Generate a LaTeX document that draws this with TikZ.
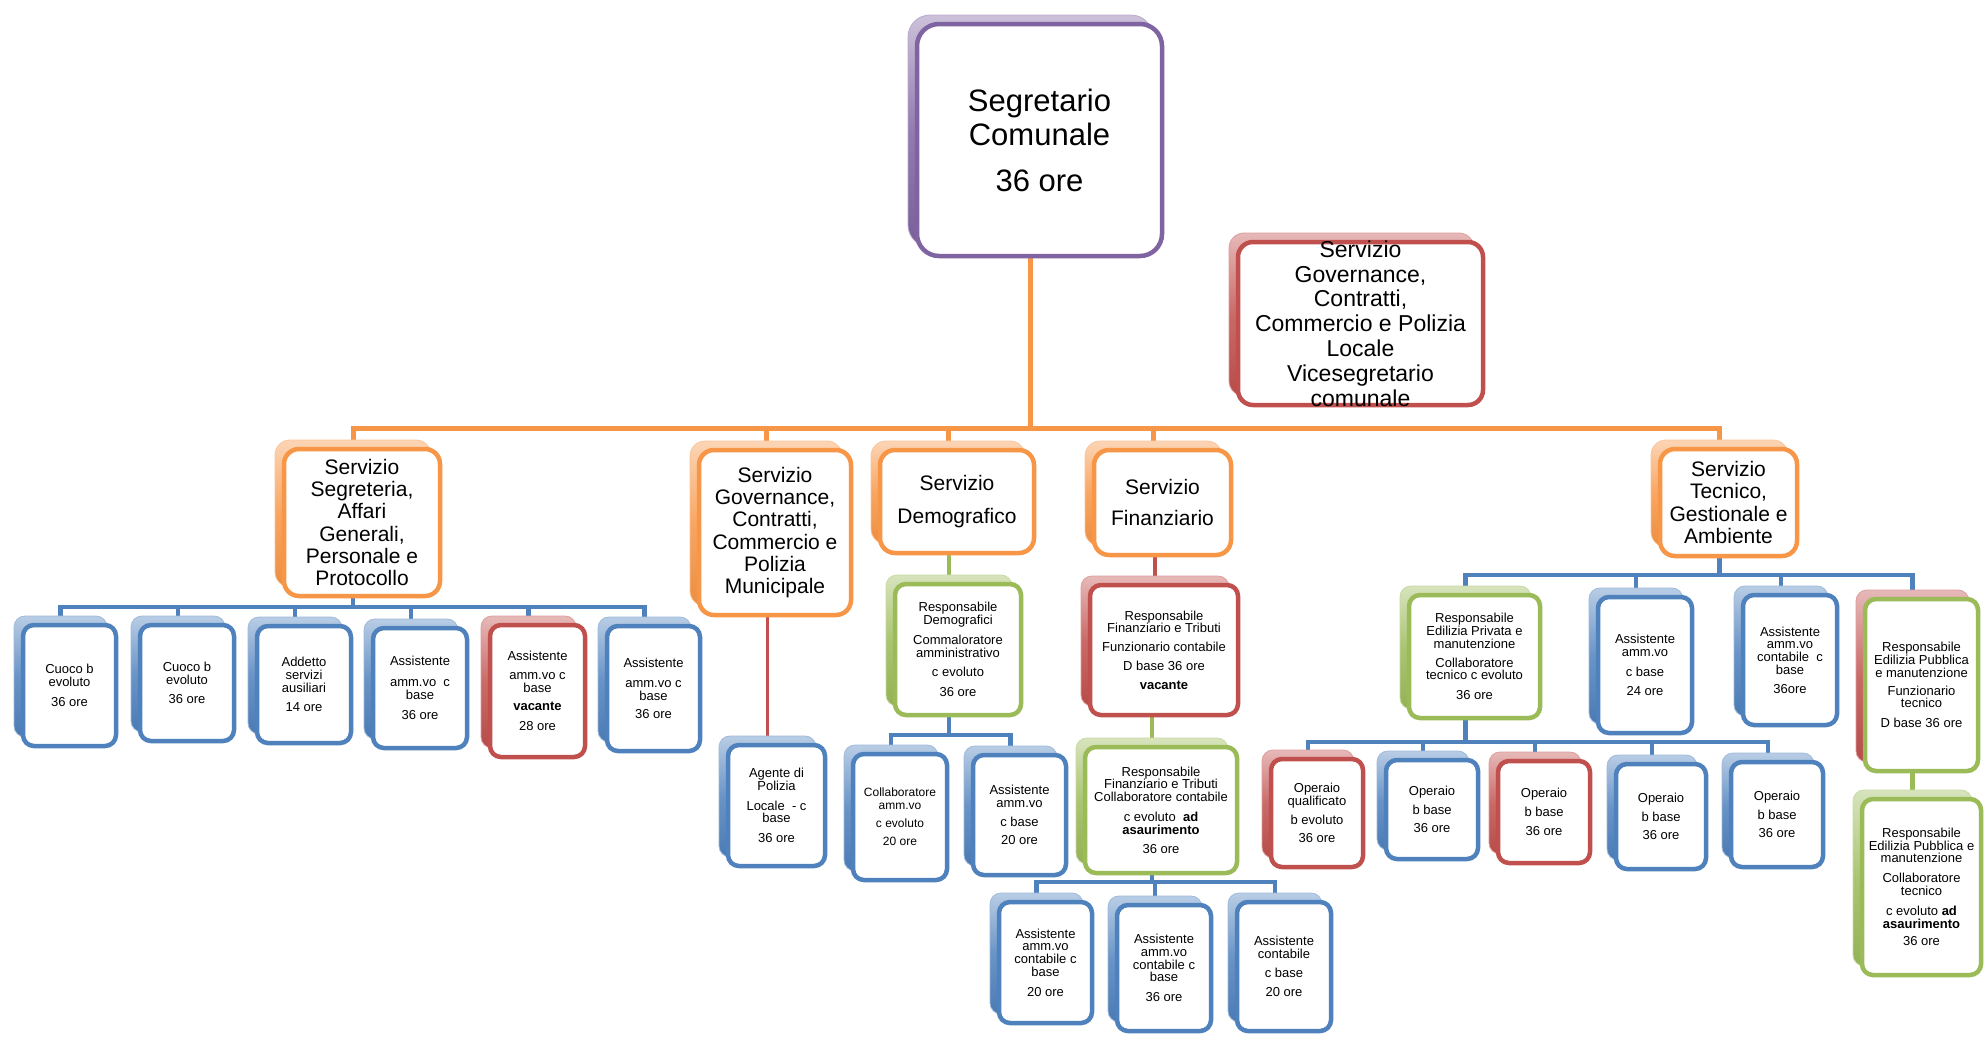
\documentclass[tikz,border=0pt]{standalone}
\usepackage{fontspec}
\setmainfont{Liberation Sans}
\usetikzlibrary{backgrounds}
\definecolor{cpurple}{HTML}{8064A2}
\definecolor{corange}{HTML}{F79646}
\definecolor{cblue}{HTML}{4F81BD}
\definecolor{cred}{HTML}{C0504D}
\definecolor{cgreen}{HTML}{9BBB59}
\def\boxrad{10pt}
\tikzset{
  backbox/.style={rectangle, rounded corners=\boxrad, top color=#1!40!white, bottom color=#1!95!black, middle color=#1!85!white, draw=#1!55!white, line width=0.8pt, inner sep=0pt},
  frontbox/.style={rectangle, rounded corners=\boxrad, fill=white, draw=#1, line width=4.5pt, inner sep=0pt},
  txt/.style={align=center, inner sep=0pt, text=black},
  fseg/.style={font=\fontsize{31}{34}\selectfont},
  fvice/.style={font=\fontsize{23}{24.8}\selectfont},
  fserv/.style={font=\fontsize{21}{22.3}\selectfont},
  fsm/.style={font=\fontsize{13}{12.8}\selectfont},
  fxs/.style={font=\fontsize{12}{12.3}\selectfont},
  oline/.style={draw=corange, line width=5pt},
  bline/.style={draw=cblue, line width=4.5pt},
  rline/.style={draw=cred, line width=3.5pt},
  gline/.style={draw=cgreen, line width=4.5pt},
}
\newcommand\orgbox[9]{%
  \node[backbox=#2, minimum width={#6-#4-4}, minimum height={#7-#5-4}] (#1-b) at ({(#4+#6)/2-9},{(#5+#7)/2-9}) {};
  \node[frontbox=#3, minimum width={#6-#4-4}, minimum height={#7-#5-4}] (#1) at ({(#4+#6)/2},{(#5+#7)/2}) {};
  \node[txt,#8] (#1-t) at (#1.center) {#9};
}
\begin{document}
\begin{tikzpicture}[x=1pt,y=-1pt]
\begin{scope}[on background layer]
\fill[white] (0,0) rectangle (1986,1037);
\end{scope}
\useasboundingbox (0,0) rectangle (1986,1037);

% top level
\def\boxrad{22pt}
\orgbox{seg}{cpurple}{cpurple}{915}{22}{1164}{258}{fseg}{Segretario\\Comunale\\[12pt]36 ore}
\def\boxrad{15pt}
\orgbox{vice}{cred}{cred}{1236}{240}{1485}{407}{fvice}{Servizio\\Governance,\\Contratti,\\Commercio e Polizia\\Locale\\Vicesegretario\\comunale}

% services
\orgbox{segr}{corange}{corange}{282}{447}{442}{598}{fserv}{Servizio\\Segreteria,\\Affari\\Generali,\\Personale e\\Protocollo}
\orgbox{gov}{corange}{corange}{697}{448}{853}{617}{fserv}{Servizio\\Governance,\\Contratti,\\Commercio e\\Polizia\\Municipale}
\orgbox{demo}{corange}{corange}{878}{448}{1036}{555}{fserv}{Servizio\\[10pt]Demografico}
\orgbox{fin}{corange}{corange}{1092}{448}{1233}{557}{fserv}{Servizio\\[9pt]Finanziario}
\orgbox{tec}{corange}{corange}{1658}{447}{1799}{558}{fserv}{Servizio\\Tecnico,\\Gestionale e\\Ambiente}

% segreteria staff
\def\boxrad{11pt}
\orgbox{c1}{cblue}{cblue}{21}{623}{118}{748}{fsm}{Cuoco b\\evoluto\\[7pt]36 ore}
\orgbox{c2}{cblue}{cblue}{138}{623}{236}{743}{fsm}{Cuoco b\\evoluto\\[7pt]36 ore}
\orgbox{c3}{cblue}{cblue}{255}{624}{353}{745}{fsm}{Addetto\\servizi\\ausiliari\\[6pt]14 ore}
\orgbox{c4}{cblue}{cblue}{371}{626}{469}{750}{fsm}{Assistente\\[8pt]amm.vo~~c\\base\\[7pt]36 ore}
\orgbox{c5}{cred}{cred}{488}{623}{587}{759}{fsm}{Assistente\\[6pt]amm.vo c\\base\\[6pt]\textbf{vacante}\\[7pt]28 ore}
\orgbox{c6}{cblue}{cblue}{605}{624}{702}{753}{fsm}{Assistente\\[7pt]amm.vo c\\base\\[5pt]36 ore}

% governance
\orgbox{agente}{cblue}{cblue}{726}{743}{827}{868}{fsm}{Agente di\\Polizia\\[7pt]Locale~~- c\\base\\[7pt]36 ore}

% demografico
\orgbox{respdemo}{cgreen}{cgreen}{893}{582}{1023}{717}{fsm}{Responsabile\\Demografici\\[7pt]Commaloratore\\amministrativo\\[7pt]c evoluto\\[7pt]36 ore}
\orgbox{collab}{cblue}{cblue}{851}{752}{949}{882}{fxs}{Collaboratore\\amm.vo\\[6pt]c evoluto\\[6pt]20 ore}
\orgbox{assist}{cblue}{cblue}{971}{753}{1068}{877}{fsm}{Assistente\\amm.vo\\[6pt]c base\\[6pt]20 ore}

% finanziario
\orgbox{respfin}{cred}{cred}{1088}{583}{1240}{717}{fsm}{Responsabile\\Finanziario e Tributi\\[6pt]Funzionario contabile\\[6pt]D base 36 ore\\[6pt]\textbf{vacante}}
\orgbox{collcont}{cgreen}{cgreen}{1083}{745}{1239}{875}{fsm}{Responsabile\\Finanziario e Tributi\\Collaboratore contabile\\[7pt]c evoluto~~\textbf{ad}\\\textbf{asaurimento}\\[6pt]36 ore}
\orgbox{a1}{cblue}{cblue}{997}{900}{1094}{1025}{fsm}{Assistente\\amm.vo\\contabile c\\base\\[7pt]20 ore}
\orgbox{a2}{cblue}{cblue}{1115}{903}{1213}{1033}{fsm}{Assistente\\amm.vo\\contabile c\\base\\[7pt]36 ore}
\orgbox{a3}{cblue}{cblue}{1235}{900}{1333}{1033}{fsm}{Assistente\\contabile\\[6pt]c base\\[7pt]20 ore}

% tecnico
\orgbox{priv}{cgreen}{cgreen}{1407}{593}{1542}{720}{fsm}{Responsabile\\Edilizia Privata e\\manutenzione\\[6pt]Collaboratore\\tecnico c evoluto\\[7pt]36 ore}
\orgbox{as24}{cblue}{cblue}{1596}{595}{1694}{735}{fsm}{Assistente\\amm.vo\\[7pt]c base\\[6pt]24 ore}
\orgbox{as36}{cblue}{cblue}{1741}{593}{1839}{727}{fsm}{Assistente\\amm.vo\\contabile~~c\\base\\[6pt]36ore}
\orgbox{pub1}{cred}{cgreen}{1863}{597}{1980}{773}{fsm}{Responsabile\\Edilizia Pubblica\\e manutenzione\\[5pt]Funzionario\\tecnico\\[7pt]D base 36 ore}
\orgbox{pub2}{cgreen}{cgreen}{1860}{797}{1983}{977}{fsm}{Responsabile\\Edilizia Pubblica e\\manutenzione\\[7pt]Collaboratore\\tecnico\\[7pt]c evoluto \textbf{ad}\\\textbf{asaurimento}\\[5pt]36 ore}
\orgbox{o1}{cred}{cred}{1269}{757}{1365}{869}{fsm}{Operaio\\qualificato\\[6pt]b evoluto\\[6pt]36 ore}
\orgbox{o2}{cblue}{cblue}{1384}{758}{1480}{861}{fsm}{Operaio\\[6pt]b base\\[6pt]36 ore}
\orgbox{o3}{cred}{cred}{1496}{759}{1592}{865}{fsm}{Operaio\\[6pt]b base\\[6pt]36 ore}
\orgbox{o4}{cblue}{cblue}{1614}{762}{1708}{871}{fsm}{Operaio\\[6pt]b base\\[6pt]36 ore}
\orgbox{o5}{cblue}{cblue}{1729}{760}{1825}{869}{fsm}{Operaio\\[6pt]b base\\[6pt]36 ore}

% connectors
\begin{scope}[on background layer]
\coordinate (busO) at (0,428);
\coordinate (busS) at (0,607);
\coordinate (busD) at (0,735);
\coordinate (busF) at (0,882);
\coordinate (busT) at (0,575);
\coordinate (busP) at (0,742);
\foreach \c in {segr,gov,demo,fin,tec}
  \draw[oline] (seg-b.south) -- (seg-b.south |- busO) -| (\c-b.north);
\foreach \c in {c1,c2,c3,c4,c5,c6}
  \draw[bline] (segr-b.south) -- (segr-b.south |- busS) -| (\c-b.north);
\draw[rline] (agente-b.north |- gov-b.south) -- (agente-b.north);
\draw[gline] (respdemo-b.north |- demo-b.south) -- (respdemo-b.north);
\foreach \c in {collab,assist}
  \draw[bline] (respdemo-b.south) -- (respdemo-b.south |- busD) -| (\c-b.north);
\draw[rline] (respfin-b.north |- fin-b.south) -- (respfin-b.north);
\draw[gline] (collcont-b.north |- respfin-b.south) -- (collcont-b.north);
\foreach \c in {a1,a2,a3}
  \draw[bline] (collcont-b.south) -- (collcont-b.south |- busF) -| (\c-b.north);
\foreach \c in {priv,as24,as36,pub1}
  \draw[bline] (tec-b.south) -- (tec-b.south |- busT) -| (\c-b.north);
\foreach \c in {o1,o2,o3,o4,o5}
  \draw[bline] (priv-b.south) -- (priv-b.south |- busP) -| (\c-b.north);
\draw[gline] (pub2-b.north |- pub1-b.south) -- (pub2-b.north);
\end{scope}
\end{tikzpicture}
\end{document}
